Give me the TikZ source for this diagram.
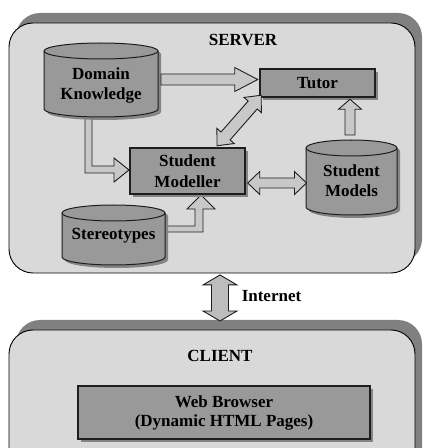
\documentclass[tikz,border=0pt]{standalone}
\usepackage{fontspec}
\setmainfont{Liberation Serif}
\usetikzlibrary{calc,shadows}

\definecolor{panelfill}{HTML}{D9D9D9}
\definecolor{panelshadow}{HTML}{808080}
\definecolor{unitfill}{HTML}{999999}
\definecolor{unitshadow}{HTML}{858585}
\definecolor{flowfill}{HTML}{C8C8C8}
\definecolor{linkfill}{HTML}{BDBDBD}
\definecolor{edge}{HTML}{1E1E1E}

% block arrow: tail, tip, shaft half width, head half width, head length, style
\newcommand{\blkarrow}[6]{%
  \coordinate (ba-h) at ($(#2)!#5!(#1)$);
  \filldraw[#6] ($(#1)!#3!90:(#2)$) -- ($(ba-h)!#3!90:(#2)$) -- ($(ba-h)!#4!90:(#2)$)
    -- (#2) -- ($(ba-h)!#4!-90:(#2)$) -- ($(ba-h)!#3!-90:(#2)$) -- ($(#1)!#3!-90:(#2)$) -- cycle;
}
% two-headed block arrow: end, end, shaft half width, head half width, head length, style
\newcommand{\dblarrow}[6]{%
  \coordinate (da-a) at ($(#1)!#5!(#2)$);
  \coordinate (da-b) at ($(#2)!#5!(#1)$);
  \filldraw[#6] (#1) -- ($(da-a)!#4!90:(#2)$) -- ($(da-a)!#3!90:(#2)$)
    -- ($(da-b)!#3!-90:(#1)$) -- ($(da-b)!#4!-90:(#1)$) -- (#2)
    -- ($(da-b)!#4!90:(#1)$) -- ($(da-b)!#3!90:(#1)$)
    -- ($(da-a)!#3!-90:(#2)$) -- ($(da-a)!#4!-90:(#2)$) -- cycle;
}
% storage drum: left x, right x, top y, bottom y, ellipse half height
\newcommand{\drum}[5]{%
  \pgfmathsetmacro\drx{(#2-#1)/2}
  \pgfmathsetmacro\dyt{#3-#5}
  \pgfmathsetmacro\dyb{#4+#5}
  \fill[unitshadow] ({#1+3},{\dyt-3}) -- ({#1+3},{\dyb-3})
    arc[start angle=180,end angle=360,x radius=\drx pt,y radius=#5pt]
    -- ({#2+3},{\dyt-3}) arc[start angle=0,end angle=180,x radius=\drx pt,y radius=#5pt] -- cycle;
  \filldraw[unitfill, drumline] (#1,\dyt) -- (#1,\dyb)
    arc[start angle=180,end angle=360,x radius=\drx pt,y radius=#5pt]
    -- (#2,\dyt) arc[start angle=0,end angle=180,x radius=\drx pt,y radius=#5pt] -- cycle;
  \draw[drumline] (#1,\dyt) arc[start angle=180,end angle=360,x radius=\drx pt,y radius=#5pt];
}

\begin{document}
\begin{tikzpicture}[x=1pt,y=1pt,
  every node/.style={font=\fontsize{17}{20}\selectfont\bfseries, text=black, align=center},
  panel/.style={draw=black, line width=0.9pt, fill=panelfill, rounded corners=24pt, inner sep=0pt,
    drop shadow={shadow xshift=7pt, shadow yshift=10pt, fill=panelshadow, opacity=1}},
  unitbox/.style={draw=edge, line width=1.5pt, fill=unitfill, inner sep=0pt,
    drop shadow={shadow xshift=3pt, shadow yshift=-3pt, fill=unitshadow, opacity=1}},
  drumline/.style={draw=edge, line width=1pt},
  flow/.style={draw=edge, line width=0.9pt, fill=flowfill, line join=miter},
  link/.style={flow, fill=linkfill},
]
\useasboundingbox (0,0) rectangle (424,448);

% panels
\node[panel, minimum width=406pt, minimum height=250pt] (server) at (212,300) {};
\node[panel, minimum width=406pt, minimum height=160pt] (client) at (212,38) {};
\node (servertitle) at (243,408) {SERVER};
\node (clienttitle) at (220,92) {CLIENT};

% elbow flows into the modeller
\filldraw[flow] (85,331) -- (85,275) -- (114,275) -- (114,266) -- (129,278)
  -- (114,290) -- (114,282) -- (92,282) -- (92,331) -- cycle;
\filldraw[flow] (158,222) -- (195,222) -- (195,239) -- (187,239) -- (201,253)
  -- (215,239) -- (203,239) -- (203,216) -- (158,216) -- cycle;

% data stores
\drum{44}{158}{405}{331}{8}
\node (domain) at (101,363) {Domain\\Knowledge};
\drum{306}{397}{308}{233}{8}
\node (models) at (351.5,267) {Student\\Models};
\drum{62}{165}{243}{183}{8}
\node (stereo) at (113.5,212) {Stereotypes};

% processing units
\node[unitbox, minimum width=115pt, minimum height=28pt] (tutor) at (317.5,365) {Tutor};
\node[unitbox, minimum width=115pt, minimum height=46pt, font=\fontsize{17}{21}\selectfont\bfseries]
  (modeller) at (187.5,277) {Student\\Modeller};
\node[unitbox, minimum width=292pt, minimum height=53pt, font=\fontsize{17}{19}\selectfont\bfseries]
  (browser) at (224,35.5) {Web Browser\\(Dynamic HTML Pages)};

% flows between units
\coordinate (dt-a) at (161,368.5);
\coordinate (dt-b) at ($(tutor.west |- dt-a)+(-1.5,0)$);
\blkarrow{dt-a}{dt-b}{5.5pt}{12pt}{23pt}{flow}

\coordinate (mt-a) at ($(modeller.north)+(29.5,1.5)$);
\coordinate (mt-b) at ($(tutor.south west)+(2,2.5)$);
\dblarrow{mt-a}{mt-b}{6pt}{11.5pt}{13pt}{flow}

\coordinate (mm-a) at ($(modeller.east)+(2,-12)$);
\coordinate (mm-b) at (306.5,265);
\dblarrow{mm-a}{mm-b}{5pt}{11.5pt}{12pt}{flow}

\coordinate (st-a) at (350,313);
\coordinate (st-b) at ($(tutor.south -| st-a)+(0,-1.5)$);
\blkarrow{st-a}{st-b}{5pt}{11.5pt}{10pt}{flow}

\coordinate (net-a) at ($(server.south -| 220,0)+(0,-1.5)$);
\coordinate (net-b) at (220,127);
\dblarrow{net-a}{net-b}{8.5pt}{17pt}{10pt}{link}
\node (internet) at (271.5,152) {Internet};
\end{tikzpicture}
\end{document}
